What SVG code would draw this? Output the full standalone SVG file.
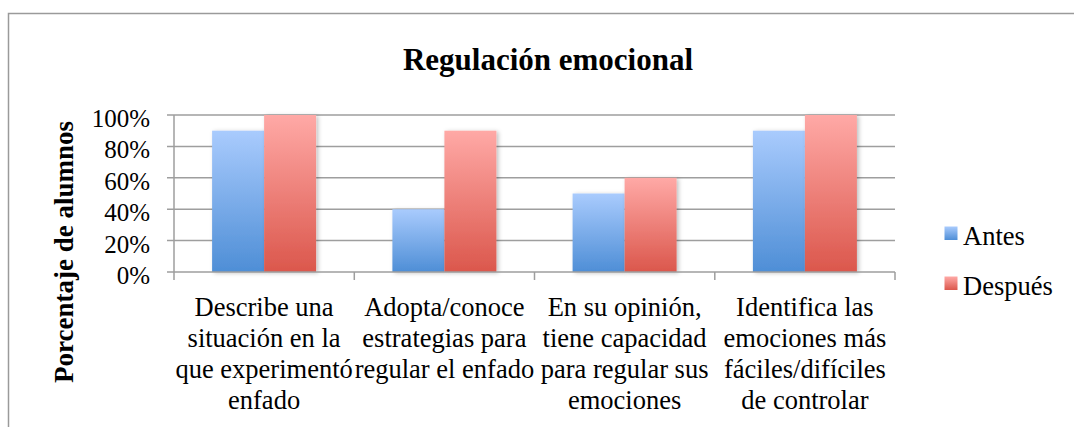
<svg xmlns="http://www.w3.org/2000/svg" width="1074" height="427" viewBox="0 0 1074 427">
<style>
.t{font-family:"Liberation Serif","Times New Roman",serif;fill:#000}
.cat{font-size:26.5px;text-anchor:middle}
.ytl{font-size:25px;text-anchor:end}
.leg{font-size:26.5px}
.grid{stroke:#9e9e9e;stroke-width:1.5;fill:none}
.blue{fill:url(#gBlue)}
.red{fill:url(#gRed)}
.bar{filter:url(#sh)}
</style>
<defs>
<linearGradient id="gBlue" x1="0" y1="0" x2="0" y2="1">
<stop offset="0" stop-color="#A9CBFD"/>
<stop offset="1" stop-color="#4E8ED6"/>
</linearGradient>
<linearGradient id="gRed" x1="0" y1="0" x2="0" y2="1">
<stop offset="0" stop-color="#FFA9A6"/>
<stop offset="1" stop-color="#DB574C"/>
</linearGradient>
<filter id="sh" x="-20%" y="-10%" width="150%" height="130%">
<feDropShadow dx="2" dy="1" stdDeviation="2" flood-color="#000" flood-opacity="0.25"/>
</filter>
</defs>
<rect width="1074" height="427" fill="#fff"/>
<rect id="frame" x="8.5" y="13.5" width="1100" height="500" fill="none" stroke="#9a9a9a" stroke-width="1.5"/>
<g id="title"><text class="t" x="548" y="70" font-size="31" font-weight="bold" text-anchor="middle">Regulación emocional</text></g>
<g id="y-axis-title"><text class="t" transform="translate(73,252) rotate(-90)" font-size="27" font-weight="bold" text-anchor="middle">Porcentaje de alumnos</text></g>
<g id="gridlines">
<path class="grid" d="M167 115H895M167 146.4H895M167 177.8H895M167 209.2H895M167 240.6H895"/>
</g>
<g id="y-labels">
<text class="t ytl" x="150" y="127">100%</text>
<text class="t ytl" x="150" y="158.4">80%</text>
<text class="t ytl" x="150" y="189.8">60%</text>
<text class="t ytl" x="150" y="221.2">40%</text>
<text class="t ytl" x="150" y="252.6">20%</text>
<text class="t ytl" x="150" y="284">0%</text>
</g>
<g id="bars">
<g id="cat1">
<rect class="bar blue" x="212.1" y="130.7" width="52" height="141.3"/>
<rect class="bar red" x="264.1" y="115" width="52" height="157"/>
</g>
<g id="cat2">
<rect class="bar blue" x="392.4" y="209.2" width="52" height="62.8"/>
<rect class="bar red" x="444.4" y="130.7" width="52" height="141.3"/>
</g>
<g id="cat3">
<rect class="bar blue" x="572.6" y="193.5" width="52" height="78.5"/>
<rect class="bar red" x="624.6" y="177.8" width="52" height="94.2"/>
</g>
<g id="cat4">
<rect class="bar blue" x="752.9" y="130.7" width="52" height="141.3"/>
<rect class="bar red" x="804.9" y="115" width="52" height="157"/>
</g>
</g>
<g id="axes">
<path class="grid" d="M167 272H895M174 115V280M354.3 272V280M534.5 272V280M714.8 272V280M895 272V280"/>
</g>
<g id="category-labels">
<g id="label1"><text class="t cat" x="264.1" y="316">Describe una<tspan x="264.1" dy="31">situación en la</tspan><tspan x="264.1" dy="31">que experimentó</tspan><tspan x="264.1" dy="31">enfado</tspan></text></g>
<g id="label2"><text class="t cat" x="444.4" y="316">Adopta/conoce<tspan x="444.4" dy="31">estrategias para</tspan><tspan x="444.4" dy="31">regular el enfado</tspan></text></g>
<g id="label3"><text class="t cat" x="624.6" y="316">En su opinión,<tspan x="624.6" dy="31">tiene capacidad</tspan><tspan x="624.6" dy="31">para regular sus</tspan><tspan x="624.6" dy="31">emociones</tspan></text></g>
<g id="label4"><text class="t cat" x="804.9" y="316">Identifica las<tspan x="804.9" dy="31">emociones más</tspan><tspan x="804.9" dy="31">fáciles/difíciles</tspan><tspan x="804.9" dy="31">de controlar</tspan></text></g>
</g>
<g id="legend">
<g id="legend-antes"><rect class="blue" x="944.5" y="226.5" width="13" height="13.5"/><text class="t leg" x="963" y="245">Antes</text></g>
<g id="legend-despues"><rect class="red" x="944.5" y="276.5" width="13" height="13.5"/><text class="t leg" x="963" y="295">Después</text></g>
</g>
<g id="connectors"/>
</svg>
